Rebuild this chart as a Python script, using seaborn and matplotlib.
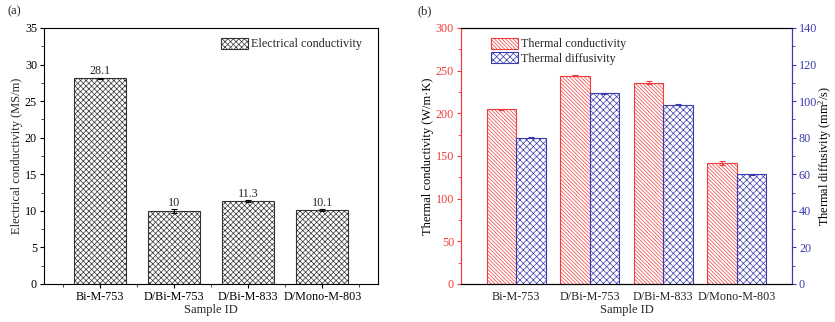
import matplotlib
matplotlib.use("Agg")
import matplotlib.pyplot as plt
import seaborn as sns
import numpy as np
import pandas as pd
from matplotlib.ticker import MultipleLocator
from matplotlib.patches import Patch

sns.set_theme(style="ticks")
plt.rcParams['font.family'] = ['Liberation Serif', 'DejaVu Serif']
plt.rcParams['mathtext.default'] = 'regular'
plt.rcParams['font.size'] = 9
plt.rcParams['hatch.linewidth'] = 0.5

# data
samples = ['Bi-M-753', 'D/Bi-M-753', 'D/Bi-M-833', 'D/Mono-M-803']
elec_cond = [28.1, 10.0, 11.3, 10.1]
elec_err = [0.1, 0.3, 0.15, 0.1]
labels_elec = ['28.1', '10', '11.3', '10.1']
therm_cond = [205, 244, 236, 142]
therm_cond_err = [0.6, 0.5, 2.0, 2.5]
therm_diff = [80.0, 104.2, 98.0, 60.0]
therm_diff_err = [0.3, 0.3, 0.3, 0.2]

RED = '#f03c3c'
BLUE = '#3a3aae'
H_BLACK = 'xxxxxx'
H_RED = '\\' * 9
H_BLUE = 'xxxxx'
FS = 8.7

fig = plt.figure(figsize=(8.35, 3.22), dpi=100)
ax1 = fig.add_axes([44/835, 38/322, 334/835, 256/322])
ax2 = fig.add_axes([461/835, 38/322, 331/835, 256/322])

# ---- (a) electrical conductivity ----
df_e = pd.DataFrame({'Sample': samples, 'Value': elec_cond})
sns.barplot(data=df_e, x='Sample', y='Value', order=samples, width=0.7,
            color='white', edgecolor='#333333', linewidth=0.8, errorbar=None, ax=ax1)
centers = []
for p in ax1.patches:
    p.set_hatch(H_BLACK)
    p.set_edgecolor('#333333')
    centers.append(p.get_x() + p.get_width() / 2)
ax1.errorbar(centers, elec_cond, yerr=elec_err, fmt='none', ecolor='black',
             elinewidth=0.8, capsize=2, capthick=0.8)
ax1.bar_label(ax1.containers[0], labels=labels_elec, padding=1, fontsize=FS)
ax1.set_xlim(-0.75, 3.75)
ax1.set_ylim(0, 35)
ax1.yaxis.set_major_locator(MultipleLocator(5))
ax1.yaxis.set_minor_locator(MultipleLocator(2.5))
ax1.xaxis.set_minor_locator(MultipleLocator(0.5))
ax1.set_xlabel('Sample ID', fontsize=9, labelpad=1)
ax1.set_ylabel('Electrical conductivity (MS/m)', fontsize=9, labelpad=1)
ax1.tick_params(axis='both', which='major', direction='out', length=3, width=0.8,
                labelsize=FS, colors='black', pad=2)
ax1.tick_params(axis='both', which='minor', direction='out', length=2, width=0.6)
for s in ax1.spines.values():
    s.set_visible(True)
    s.set_linewidth(0.8)
    s.set_color('black')
ax1.legend(handles=[Patch(facecolor='white', edgecolor='#333333', hatch=H_BLACK, linewidth=0.8,
                          label='Electrical conductivity')],
           loc='upper left', bbox_to_anchor=(0.505, 0.995), frameon=False, fontsize=FS,
           handlelength=2.2, handleheight=1.0, handletextpad=0.3, borderaxespad=0.3)
fig.text(8/835, 1 - 11/322, '(a)', fontsize=9, va='center', ha='left')

# ---- (b) thermal properties ----
props = ['Thermal conductivity', 'Thermal diffusivity']
df_t = pd.DataFrame({'Sample': samples * 2,
                     'Value': therm_cond + therm_diff,
                     'Property': [props[0]] * 4 + [props[1]] * 4})
ax3 = ax2.twinx()
ax3.set_position(ax2.get_position())

# draw both series on each axis so seaborn dodges them, then keep only one per axis
sns.barplot(data=df_t, x='Sample', y='Value', hue='Property', hue_order=props,
            order=samples, width=0.8, palette=['white', 'white'], errorbar=None,
            legend=False, ax=ax2)
sns.barplot(data=df_t, x='Sample', y='Value', hue='Property', hue_order=props,
            order=samples, width=0.8, palette=['white', 'white'], errorbar=None,
            legend=False, ax=ax3)

cx = []
for p in list(ax2.containers[1]):
    p.remove()
for p in ax2.containers[0]:
    p.set_hatch(H_RED)
    p.set_edgecolor(RED)
    p.set_linewidth(0.8)
    cx.append(p.get_x() + p.get_width() / 2)
dx = []
for p in list(ax3.containers[0]):
    p.remove()
for p in ax3.containers[1]:
    p.set_hatch(H_BLUE)
    p.set_edgecolor(BLUE)
    p.set_linewidth(0.8)
    dx.append(p.get_x() + p.get_width() / 2)
ax2.errorbar(cx, therm_cond, yerr=therm_cond_err, fmt='none', ecolor=RED,
             elinewidth=0.8, capsize=2, capthick=0.8)
ax3.errorbar(dx, therm_diff, yerr=therm_diff_err, fmt='none', ecolor=BLUE,
             elinewidth=0.8, capsize=2, capthick=0.8)

ax2.set_xlim(-0.75, 3.75)
ax2.set_ylim(0, 300)
ax3.set_ylim(0, 140)
ax2.yaxis.set_major_locator(MultipleLocator(50))
ax2.yaxis.set_minor_locator(MultipleLocator(25))
ax3.yaxis.set_major_locator(MultipleLocator(20))
ax3.yaxis.set_minor_locator(MultipleLocator(10))
ax2.set_xlabel('Sample ID', fontsize=9, labelpad=1)
ax2.set_ylabel('Thermal conductivity (W/m·K)', fontsize=9, color='black', labelpad=1)
ax3.set_ylabel('Thermal diffusivity (mm$^2$/s)', fontsize=8.8, color='black', labelpad=-1)
ax2.tick_params(axis='x', which='both', length=0, labelsize=FS, pad=5)
ax2.tick_params(axis='y', which='major', direction='out', length=3, width=0.8,
                labelsize=FS, colors=RED, pad=2)
ax2.tick_params(axis='y', which='minor', direction='out', length=2, width=0.6, colors=RED)
ax3.tick_params(axis='y', which='major', direction='out', length=3, width=0.8,
                labelsize=FS, colors=BLUE, pad=2)
ax3.tick_params(axis='y', which='minor', direction='out', length=2, width=0.6, colors=BLUE)
for a in (ax2, ax3):
    for s in a.spines.values():
        s.set_visible(True)
        s.set_linewidth(0.8)
        s.set_color('black')
    a.spines['left'].set_color(RED)
    a.spines['right'].set_color(BLUE)

ax2.legend(handles=[Patch(facecolor='white', edgecolor=RED, hatch=H_RED, linewidth=0.8,
                          label=props[0]),
                    Patch(facecolor='white', edgecolor=BLUE, hatch=H_BLUE, linewidth=0.8,
                          label=props[1])],
           loc='upper left', bbox_to_anchor=(0.065, 0.995), frameon=False, fontsize=FS,
           handlelength=2.2, handleheight=1.0, handletextpad=0.3, labelspacing=0.15,
           borderaxespad=0.3)
fig.text(418/835, 1 - 11/322, '(b)', fontsize=9, va='center', ha='left')

fig.savefig('out.png', dpi=100)
